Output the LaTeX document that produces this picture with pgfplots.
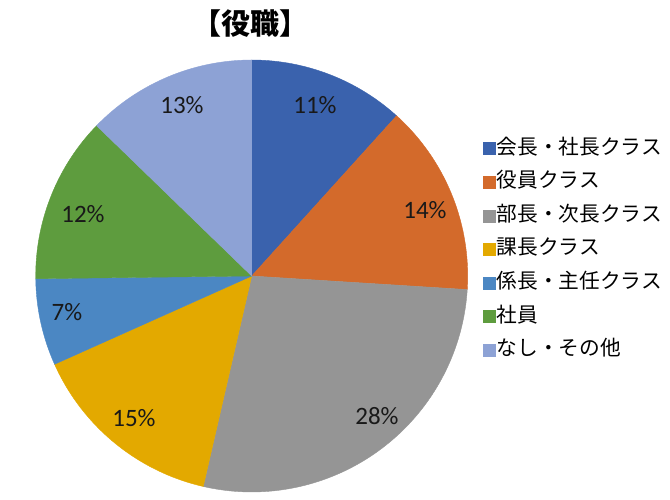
\documentclass[border=0pt]{standalone}
\usepackage{fontspec}
\setmainfont{Noto Sans CJK JP}
\newfontfamily\carlito{Carlito}
\usepackage{pgfplots}
\pgfplotsset{compat=1.18}
\definecolor{c1}{HTML}{3A62AD}
\definecolor{c2}{HTML}{D36A2B}
\definecolor{c3}{HTML}{959595}
\definecolor{c4}{HTML}{E3A900}
\definecolor{c5}{HTML}{4B87C3}
\definecolor{c6}{HTML}{5E9C3E}
\definecolor{c7}{HTML}{8DA2D5}
% slice shares (percent), cumulative from 12 o'clock, clockwise
% 11.7, 14.3, 27.6, 14.7, 6.5, 12.45, 12.75
% angles = 90 - 3.6*cumulative
\begin{document}
\begin{tikzpicture}
\begin{axis}[
  scale only axis, width=670pt, height=500pt,
  xmin=0, xmax=670, ymin=0, ymax=500,
  hide axis, clip=false,
  legend style={at={(axis cs:480,363)}, anchor=north west, draw=none, fill=none,
    font=\fontsize{20.7}{22}\selectfont, row sep=14.6pt,
    nodes={inner ysep=0pt, inner xsep=1pt, text height=15pt, text depth=4pt}},
  legend cell align=left,
  legend image code/.code={\fill[#1] (0pt,-6pt) rectangle (12pt,6pt);},
]
\path (rel axis cs:0,0) rectangle (rel axis cs:1,1);
\addplot[fill=c1, draw=c1, domain=47.88:90, samples=60] ({251.7+216*cos(x)},{224+216*sin(x)}) -- (axis cs:251.7,224) -- cycle;
\addlegendentry{会長・社長クラス}
\addplot[fill=c2, draw=c2, domain=-3.6:47.88, samples=60] ({251.7+216*cos(x)},{224+216*sin(x)}) -- (axis cs:251.7,224) -- cycle;
\addlegendentry{役員クラス}
\addplot[fill=c3, draw=c3, domain=-102.96:-3.6, samples=90] ({251.7+216*cos(x)},{224+216*sin(x)}) -- (axis cs:251.7,224) -- cycle;
\addlegendentry{部長・次長クラス}
\addplot[fill=c4, draw=c4, domain=-155.88:-102.96, samples=60] ({251.7+216*cos(x)},{224+216*sin(x)}) -- (axis cs:251.7,224) -- cycle;
\addlegendentry{課長クラス}
\addplot[fill=c5, draw=c5, domain=-179.28:-155.88, samples=40] ({251.7+216*cos(x)},{224+216*sin(x)}) -- (axis cs:251.7,224) -- cycle;
\addlegendentry{係長・主任クラス}
\addplot[fill=c6, draw=c6, domain=-224.1:-179.28, samples=60] ({251.7+216*cos(x)},{224+216*sin(x)}) -- (axis cs:251.7,224) -- cycle;
\addlegendentry{社員}
\addplot[fill=c7, draw=c7, domain=-270:-224.1, samples=60] ({251.7+216*cos(x)},{224+216*sin(x)}) -- (axis cs:251.7,224) -- cycle;
\addlegendentry{なし・その他}
\begin{scope}[every node/.style={font=\carlito\fontsize{25}{27}\selectfont, text=black!90}]
\node at (axis cs:315,395) {11\%};
\node at (axis cs:425,290) {14\%};
\node at (axis cs:377,84) {28\%};
\node at (axis cs:134,82) {15\%};
\node at (axis cs:67,188) {7\%};
\node at (axis cs:83,286) {12\%};
\node at (axis cs:182,395) {13\%};
\end{scope}
\node[font=\bfseries\fontsize{29}{31}\selectfont] at (axis cs:250,476) {【役職】};
\end{axis}
\end{tikzpicture}
\end{document}
